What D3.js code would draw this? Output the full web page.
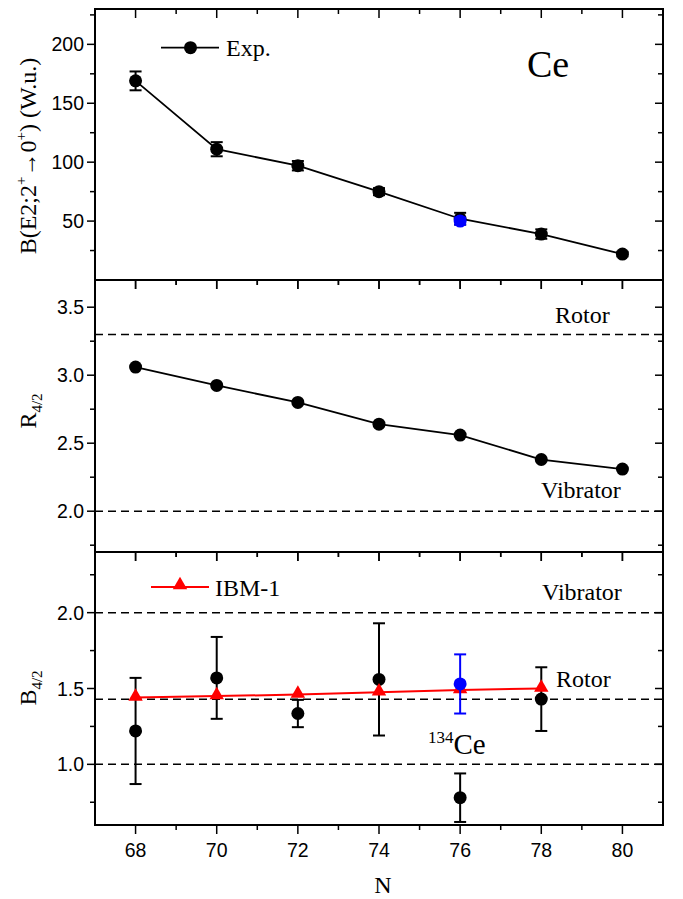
<!DOCTYPE html>
<html>
<head>
<meta charset="utf-8">
<script src="https://cdn.jsdelivr.net/npm/d3@7"></script>
<style>
  body { margin: 0; background: #fff; }
  svg { display: block; }
</style>
</head>
<body>
<div id="chart"></div>
<script>
// Data
const nVals = [68, 70, 72, 74, 76, 78, 80];
const be2 = [169, 111, 97, 75, 52, 39, 22];
const be2Err = [8, 6, 4, 3, 5, 4, 2];
const be2BlueN = 76, be2Blue = 50, be2BlueErr = 3;

const r42 = [3.06, 2.925, 2.80, 2.64, 2.56, 2.38, 2.31];

const b42N = [68, 70, 72, 74, 76, 78];
const b42 = [1.22, 1.57, 1.335, 1.56, 0.78, 1.43];
const b42Err = [0.35, 0.27, 0.09, 0.37, 0.16, 0.21];
const b42BlueN = 76, b42Blue = 1.53, b42BlueErr = 0.195;
const ibm = [1.44, 1.45, 1.46, 1.475, 1.49, 1.50];

const xMajor = [68, 70, 72, 74, 76, 78, 80];
const xMinor = [69, 71, 73, 75, 77, 79];

const width = 683, height = 899;
const left = 95, right = 663;

const svg = d3.select("#chart").append("svg")
  .attr("width", width)
  .attr("height", height);

const x = d3.scaleLinear().domain([67, 81]).range([left, right]);

const serif = "'Liberation Serif', 'Times New Roman', serif";
const sans = "'Liberation Sans', Arial, sans-serif";

// panel setup
function panel(top, bottom, domain, major, minor, fmt) {
  const y = d3.scaleLinear().domain(domain).range([bottom, top]);
  const g = svg.append("g");

  // left ticks (outward), right ticks (inward)
  major.forEach(v => {
    g.append("line").attr("x1", left - 8).attr("x2", left).attr("y1", y(v)).attr("y2", y(v))
      .attr("stroke", "#000").attr("stroke-width", 1.5);
    g.append("line").attr("x1", right - 8).attr("x2", right).attr("y1", y(v)).attr("y2", y(v))
      .attr("stroke", "#000").attr("stroke-width", 1.5);
    g.append("text").attr("x", left - 11).attr("y", y(v) + 7)
      .attr("text-anchor", "end").style("font-family", sans).attr("font-size", 19.5)
      .text(fmt(v));
  });
  minor.forEach(v => {
    g.append("line").attr("x1", left - 5).attr("x2", left).attr("y1", y(v)).attr("y2", y(v))
      .attr("stroke", "#000").attr("stroke-width", 1.5);
    g.append("line").attr("x1", right - 5).attr("x2", right).attr("y1", y(v)).attr("y2", y(v))
      .attr("stroke", "#000").attr("stroke-width", 1.5);
  });

  // x ticks on top and bottom borders, all pointing down
  [top, bottom].forEach(yy => {
    xMajor.forEach(v => {
      g.append("line").attr("x1", x(v)).attr("x2", x(v)).attr("y1", yy).attr("y2", yy + 9)
        .attr("stroke", "#000").attr("stroke-width", 1.5);
    });
    xMinor.forEach(v => {
      g.append("line").attr("x1", x(v)).attr("x2", x(v)).attr("y1", yy).attr("y2", yy + 5)
        .attr("stroke", "#000").attr("stroke-width", 1.5);
    });
  });

  g.append("rect").attr("x", left).attr("y", top)
    .attr("width", right - left).attr("height", bottom - top)
    .attr("fill", "none").attr("stroke", "#000").attr("stroke-width", 2);

  return y;
}

function dashed(y, v) {
  svg.append("line").attr("x1", left).attr("x2", right)
    .attr("y1", y(v)).attr("y2", y(v))
    .attr("stroke", "#000").attr("stroke-width", 1.5)
    .attr("stroke-dasharray", "8,5");
}

function errBar(y, xv, v, e, color) {
  const g = svg.append("g").attr("stroke", color).attr("stroke-width", 2);
  g.append("line").attr("x1", x(xv)).attr("x2", x(xv)).attr("y1", y(v - e)).attr("y2", y(v + e));
  g.append("line").attr("x1", x(xv) - 6).attr("x2", x(xv) + 6).attr("y1", y(v - e)).attr("y2", y(v - e));
  g.append("line").attr("x1", x(xv) - 6).attr("x2", x(xv) + 6).attr("y1", y(v + e)).attr("y2", y(v + e));
}

function dot(cx, cy, color) {
  svg.append("circle").attr("cx", cx).attr("cy", cy).attr("r", 6.5).attr("fill", color);
}

function label(text, xx, yy, size) {
  return svg.append("text").attr("x", xx).attr("y", yy)
    .style("font-family", serif).attr("font-size", size || 24).text(text);
}

const f0 = d3.format("d"), f1 = d3.format(".1f");

// ---- top panel: B(E2)
const y1 = panel(9, 280, [0, 230], [50, 100, 150, 200], [25, 75, 125, 175, 225], f0);
const line1 = d3.line().x((d, i) => x(nVals[i])).y(d => y1(d));
svg.append("path").datum(be2).attr("d", line1)
  .attr("fill", "none").attr("stroke", "#000").attr("stroke-width", 1.8);
be2.forEach((v, i) => {
  errBar(y1, nVals[i], v, be2Err[i], "#000");
  dot(x(nVals[i]), y1(v), "#000");
});
errBar(y1, be2BlueN, be2Blue, be2BlueErr, "#0000ff");
dot(x(be2BlueN), y1(be2Blue), "#0000ff");

// legend Exp.
svg.append("line").attr("x1", 161).attr("x2", 219).attr("y1", 47.7).attr("y2", 47.7)
  .attr("stroke", "#000").attr("stroke-width", 1.8);
dot(190.5, 47.7, "#000");
label("Exp.", 226, 56);
label("Ce", 527, 77, 38);

// ---- middle panel: R4/2
const y2 = panel(280, 552, [1.7, 3.7], [2.0, 2.5, 3.0, 3.5], [1.75, 2.25, 2.75, 3.25], f1);
dashed(y2, 3.3);
dashed(y2, 2.0);
const line2 = d3.line().x((d, i) => x(nVals[i])).y(d => y2(d));
svg.append("path").datum(r42).attr("d", line2)
  .attr("fill", "none").attr("stroke", "#000").attr("stroke-width", 1.8);
r42.forEach((v, i) => dot(x(nVals[i]), y2(v), "#000"));
label("Rotor", 555, 323);
label("Vibrator", 541, 498);

// ---- bottom panel: B4/2
const y3 = panel(552, 825, [0.6, 2.4], [1.0, 1.5, 2.0], [0.75, 1.25, 1.75, 2.25], f1);
dashed(y3, 2.0);
dashed(y3, 10 / 7);
dashed(y3, 1.0);
b42.forEach((v, i) => {
  errBar(y3, b42N[i], v, b42Err[i], "#000");
  dot(x(b42N[i]), y3(v), "#000");
});
const line3 = d3.line().x((d, i) => x(b42N[i])).y(d => y3(d));
svg.append("path").datum(ibm).attr("d", line3)
  .attr("fill", "none").attr("stroke", "#ff0000").attr("stroke-width", 2);
const tri = d3.symbol().type(d3.symbolTriangle).size(90);
ibm.forEach((v, i) => {
  svg.append("path").attr("d", tri())
    .attr("transform", `translate(${x(b42N[i])},${y3(v) - 1})`)
    .attr("fill", "#ff0000");
});
errBar(y3, b42BlueN, b42Blue, b42BlueErr, "#0000ff");
dot(x(b42BlueN), y3(b42Blue), "#0000ff");

// x tick labels
xMajor.forEach(v => {
  svg.append("text").attr("x", x(v)).attr("y", 857)
    .attr("text-anchor", "middle").style("font-family", sans).attr("font-size", 19.5)
    .text(v);
});

// legend IBM-1
svg.append("line").attr("x1", 151).attr("x2", 209).attr("y1", 587).attr("y2", 587)
  .attr("stroke", "#ff0000").attr("stroke-width", 2);
svg.append("path").attr("d", tri()).attr("transform", "translate(180,585)").attr("fill", "#ff0000");
label("IBM-1", 215, 596);

label("Vibrator", 542, 600);
label("Rotor", 556, 687);
const ce = label("", 428, 754, 29);
ce.append("tspan").attr("font-size", 17).attr("dy", -11).text("134");
ce.append("tspan").attr("dy", 11).text("Ce");

// ---- axis titles
svg.append("text").attr("x", 383).attr("y", 893).attr("text-anchor", "middle")
  .style("font-family", serif).attr("font-size", 24).text("N");

function yTitle(cy) {
  return svg.append("text")
    .attr("transform", `translate(36,${cy}) rotate(-90)`)
    .attr("text-anchor", "middle")
    .style("font-family", serif).attr("font-size", 24);
}

const t1 = yTitle(156);
t1.append("tspan").text("B(E2;2");
t1.append("tspan").attr("font-size", 15).attr("dy", -10).text("+");
t1.append("tspan").attr("dy", 10).text("\u2192");
t1.append("tspan").text("0");
t1.append("tspan").attr("font-size", 15).attr("dy", -10).text("+");
t1.append("tspan").attr("dy", 10).text(") (W.u.)");

const t2 = yTitle(411);
t2.append("tspan").text("R");
t2.append("tspan").attr("font-size", 15).attr("dy", 6).text("4/2");

const t3 = yTitle(688);
t3.append("tspan").text("B");
t3.append("tspan").attr("font-size", 15).attr("dy", 6).text("4/2");
</script>
</body>
</html>
